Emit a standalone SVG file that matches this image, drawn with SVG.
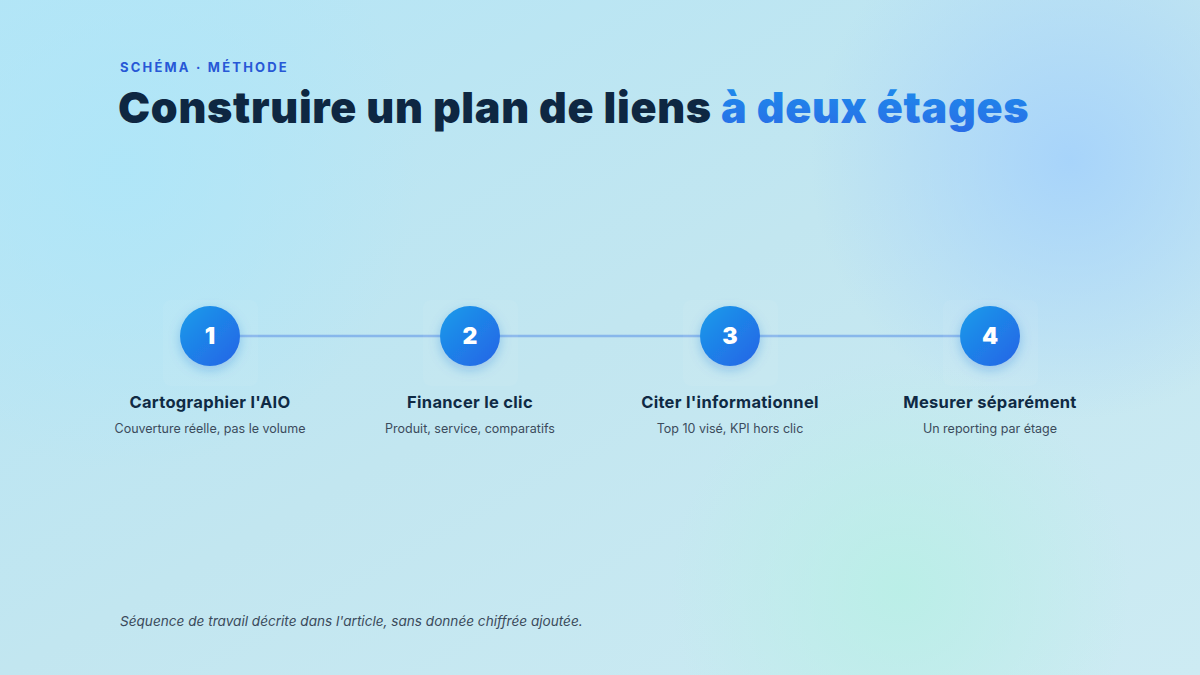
<svg xmlns="http://www.w3.org/2000/svg" width="1200" height="675" viewBox="0 0 1200 675">
<defs>
<linearGradient id="bg" x1="0" y1="0" x2="1" y2="1">
<stop offset="0" stop-color="#b4e5f6"/>
<stop offset="0.5" stop-color="#c2e6f0"/>
<stop offset="1" stop-color="#cdebf3"/>
</linearGradient>
<radialGradient id="blobA" cx="1070" cy="160" r="260" gradientUnits="userSpaceOnUse">
<stop offset="0" stop-color="#a6d3fb" stop-opacity="0.95"/>
<stop offset="1" stop-color="#a6d3fb" stop-opacity="0"/>
</radialGradient>
<radialGradient id="blobB" cx="900" cy="590" r="230" gradientUnits="userSpaceOnUse">
<stop offset="0" stop-color="#b9efe6" stop-opacity="0.9"/>
<stop offset="1" stop-color="#b9efe6" stop-opacity="0"/>
</radialGradient>
<radialGradient id="blobC" cx="120" cy="170" r="300" gradientUnits="userSpaceOnUse">
<stop offset="0" stop-color="#ade6f9" stop-opacity="0.8"/>
<stop offset="1" stop-color="#ade6f9" stop-opacity="0"/>
</radialGradient>
<linearGradient id="circ" x1="0" y1="0" x2="1" y2="1">
<stop offset="0" stop-color="#1a9cea"/>
<stop offset="1" stop-color="#2463e6"/>
</linearGradient>
<linearGradient id="accent" x1="0" y1="0" x2="0" y2="1">
<stop offset="0" stop-color="#1c8eec"/>
<stop offset="1" stop-color="#2a6ce6"/>
</linearGradient>
<filter id="glow" x="-60%" y="-60%" width="220%" height="220%">
<feGaussianBlur in="SourceAlpha" stdDeviation="6"/>
<feOffset dy="4" result="b"/>
<feFlood flood-color="#1f6fd8" flood-opacity="0.3"/>
<feComposite in2="b" operator="in"/>
<feMerge><feMergeNode/><feMergeNode in="SourceGraphic"/></feMerge>
</filter>
</defs>
<style>
.num{font-family:Inter,"DejaVu Sans",sans-serif;font-weight:900;font-size:23px;fill:#ffffff;text-anchor:middle}
.lbl{font-family:Inter,"Liberation Sans",sans-serif;font-weight:700;font-size:16.5px;letter-spacing:0.3px;fill:#0f2a44;text-anchor:middle}
.sub{font-family:Inter,"Liberation Sans",sans-serif;font-size:12.5px;fill:#3b4b5c;text-anchor:middle}
.card{fill:#ffffff;fill-opacity:0.05}
</style>
<rect width="1200" height="675" fill="url(#bg)"/>
<rect width="1200" height="675" fill="url(#blobC)"/>
<rect width="1200" height="675" fill="url(#blobA)"/>
<rect width="1200" height="675" fill="url(#blobB)"/>

<text x="120" y="72" font-family="Inter,'Liberation Sans',sans-serif" font-weight="700" font-size="13" letter-spacing="2.2" fill="#2758d6">SCHÉMA · MÉTHODE</text>
<text x="118" y="123" font-family="Inter,'Liberation Sans',sans-serif" font-weight="900" font-size="43" letter-spacing="-0.5" textLength="910" lengthAdjust="spacing" fill="#0e2742">Construire un plan de liens <tspan fill="url(#accent)">à deux étages</tspan></text>

<g id="connectors">
<line x1="240" y1="336" x2="960" y2="336" stroke="#7eaeea" stroke-width="2.5" stroke-opacity="0.85"/>
</g>

<g id="node1">
<rect class="card" x="163" y="300" width="95" height="86" rx="8"/>
<circle cx="210" cy="336" r="30" fill="url(#circ)" filter="url(#glow)"/>
<text class="num" x="210" y="344">1</text>
<text class="lbl" x="210" y="408">Cartographier l'AIO</text>
<text class="sub" x="210" y="433">Couverture réelle, pas le volume</text>
</g>
<g id="node2">
<rect class="card" x="423" y="300" width="95" height="86" rx="8"/>
<circle cx="470" cy="336" r="30" fill="url(#circ)" filter="url(#glow)"/>
<text class="num" x="470" y="344">2</text>
<text class="lbl" x="470" y="408">Financer le clic</text>
<text class="sub" x="470" y="433">Produit, service, comparatifs</text>
</g>
<g id="node3">
<rect class="card" x="683" y="300" width="95" height="86" rx="8"/>
<circle cx="730" cy="336" r="30" fill="url(#circ)" filter="url(#glow)"/>
<text class="num" x="730" y="344">3</text>
<text class="lbl" x="730" y="408">Citer l'informationnel</text>
<text class="sub" x="730" y="433">Top 10 visé, KPI hors clic</text>
</g>
<g id="node4">
<rect class="card" x="943" y="300" width="95" height="86" rx="8"/>
<circle cx="990" cy="336" r="30" fill="url(#circ)" filter="url(#glow)"/>
<text class="num" x="990" y="344">4</text>
<text class="lbl" x="990" y="408">Mesurer séparément</text>
<text class="sub" x="990" y="433">Un reporting par étage</text>
</g>

<text x="120" y="626" font-family="Inter,'Liberation Sans',sans-serif" font-style="italic" font-size="13.6" fill="#3b4b5c">Séquence de travail décrite dans l'article, sans donnée chiffrée ajoutée.</text>
</svg>
